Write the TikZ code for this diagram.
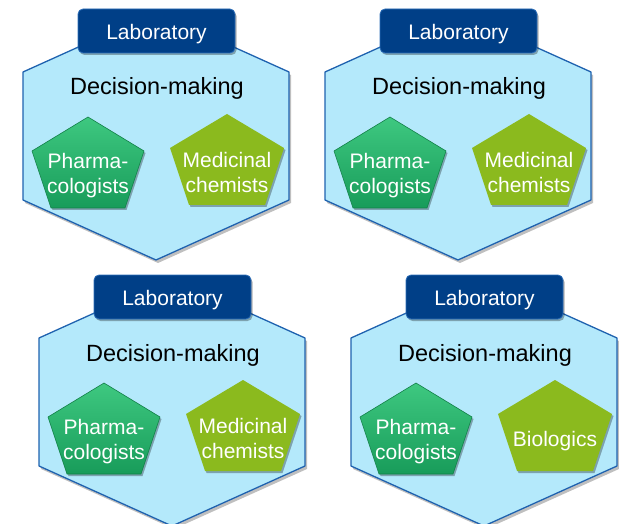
\documentclass[tikz,border=0pt]{standalone}
\usepackage{fontspec}
\setmainfont{Liberation Sans}
\usetikzlibrary{shadows}
\definecolor{hexfill}{RGB}{180,233,251}
\definecolor{hexline}{RGB}{31,98,175}
\definecolor{labfill}{RGB}{0,63,135}
\definecolor{labline}{RGB}{45,110,185}
\definecolor{pharmatop}{RGB}{62,200,128}
\definecolor{pharmabot}{RGB}{24,156,90}
\definecolor{pharmaline}{RGB}{18,128,72}
\definecolor{medfill}{RGB}{139,186,30}

\begin{document}
\begin{tikzpicture}[x=1pt, y=-1pt,
    hexagon/.style={fill=hexfill, draw=hexline, line width=1.3pt, line join=round,
        drop shadow={shadow xshift=2pt, shadow yshift=-3pt, opacity=0.25, fill=black}},
    labbox/.style={fill=labfill, draw=labline, line width=0.8pt, rounded corners=5pt,
        minimum width=157pt, minimum height=44pt, text height=17pt, text depth=0pt,
        text=white, font=\fontsize{21}{24}\selectfont,
        drop shadow={shadow xshift=1.5pt, shadow yshift=-2pt, opacity=0.3, fill=black}},
    pharma/.style={top color=pharmatop, bottom color=pharmabot, draw=pharmaline,
        line width=0.6pt, line join=round,
        drop shadow={shadow xshift=1.5pt, shadow yshift=-2pt, opacity=0.3, fill=black}},
    medchem/.style={fill=medfill, line join=round,
        drop shadow={shadow xshift=1.5pt, shadow yshift=-2pt, opacity=0.3, fill=black}},
    grouptext/.style={text=white, font=\fontsize{21}{24.5}\selectfont, align=center,
        execute at begin node=\strut, execute at end node=\strut},
    dectext/.style={anchor=base, font=\fontsize{23.5}{28}\selectfont}]
    % Frame
    \useasboundingbox (0,0) rectangle (619,524);
    % Four laboratories
    \foreach \i/\dx/\dy/\group in {1/0/0/{Medicinal\\chemists}, 2/302/0/{Medicinal\\chemists},
                                   3/16/266/{Medicinal\\chemists}, 4/328/266/{Biologics}} {
        \begin{scope}[shift={(\dx,\dy)}]
            % Hexagon
            \path[hexagon] (156,12) -- (289,72) -- (289,200) -- (156,260)
                -- (23,200) -- (23,72) -- cycle;
            % Header
            \node[labbox] (lab\i) at (156.5,31) {Laboratory};
            \node[dectext] (dec\i) at (157,95) {Decision-making};
            % Pentagons
            \path[pharma] (88,117) -- ++(56,34) -- ++(-19,57) -- ++(-74,0)
                -- ++(-19,-57) -- cycle;
            \path[medchem] (227,114) -- ++(57,34) -- ++(-19,57) -- ++(-76,0)
                -- ++(-19,-57) -- cycle;
            \node[grouptext] (pharm\i) at (88,177) {Pharma-\\cologists};
            \node[grouptext] (group\i) at (227,176) {\group};
        \end{scope}
    }
\end{tikzpicture}
\end{document}
